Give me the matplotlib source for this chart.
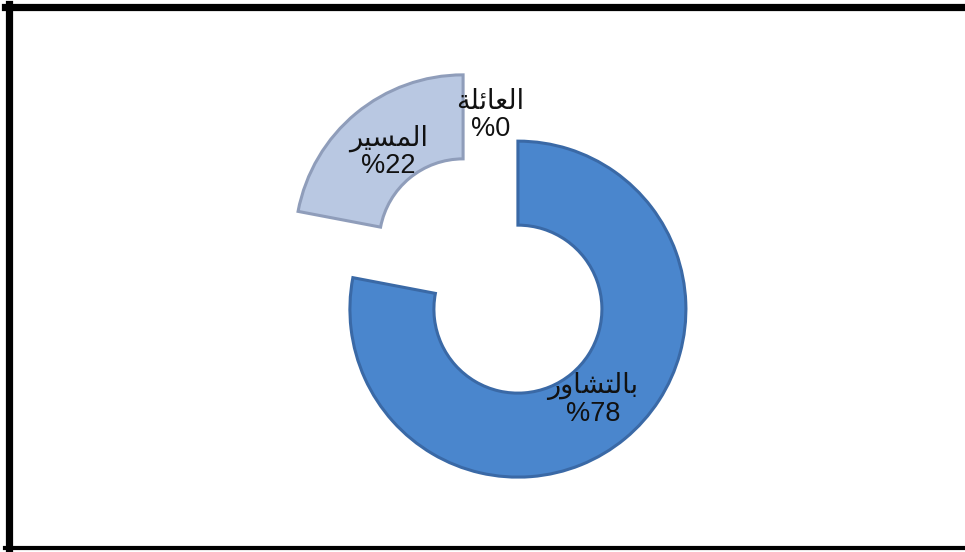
import matplotlib.pyplot as plt
from matplotlib.lines import Line2D

# Arabic labels written as presentation forms in visual order (matplotlib does no shaping)
names = ['\uFEAD\uFEED\uFE8E\uFEB8\uFE98\uFEDF\uFE8E\uFE91',   # بالتشاور
         '\uFEAE\uFEF4\uFEB4\uFEE4\uFEDF\uFE8D',               # المسير
         '\uFE94\uFEE0\uFE8B\uFE8E\uFECC\uFEDF\uFE8D']         # العائلة
shares = [78, 22, 0]
face_colors = ['#4a86cd', '#b9c8e2', '#4a86cd']
edge_colors = ['#3a69a6', '#8f9dba', '#3a69a6']

W, H = 965, 552
fig = plt.figure(figsize=(W / 100, H / 100), dpi=100)
ax = fig.add_axes([0, 0, 1, 1])

labels = [f'{n}\n%{v}' for n, v in zip(names, shares)]
radius = 168
# explode is in data units here (radius is not 1)
wedges, texts = ax.pie(shares, labels=labels, startangle=90, counterclock=False,
                       radius=radius, center=(490.5, H - 276),
                       explode=[43] * len(shares), labeldistance=0.70,
                       colors=face_colors,
                       wedgeprops=dict(width=84, linewidth=2.2),
                       textprops=dict(fontsize=19.5, color='#111111',
                                      family=['Liberation Sans', 'DejaVu Sans']))
for w, ec, v in zip(wedges, edge_colors, shares):
    w.set_edgecolor(ec)
    if v == 0:
        w.set_linewidth(0)
for t in texts:
    t.set_horizontalalignment('center')
    t.set_verticalalignment('center')
    t.set_multialignment('center')
    t.set_linespacing(1.05)

ax.set_xlim(0, W)
ax.set_ylim(0, H)
ax.set_aspect('equal')
ax.axis('off')

# black frame around the picture
fig.add_artist(Line2D([5 / W, 1], [1 - 6.5 / H] * 2, color='black', lw=5.2))
fig.add_artist(Line2D([8.5 / W] * 2, [1 - 4 / H, 1 - 550 / H], color='black', lw=5.2))
fig.add_artist(Line2D([5 / W, 1], [1 - 548 / H] * 2, color='black', lw=3))

fig.savefig('out.png', dpi=100, facecolor='white')
